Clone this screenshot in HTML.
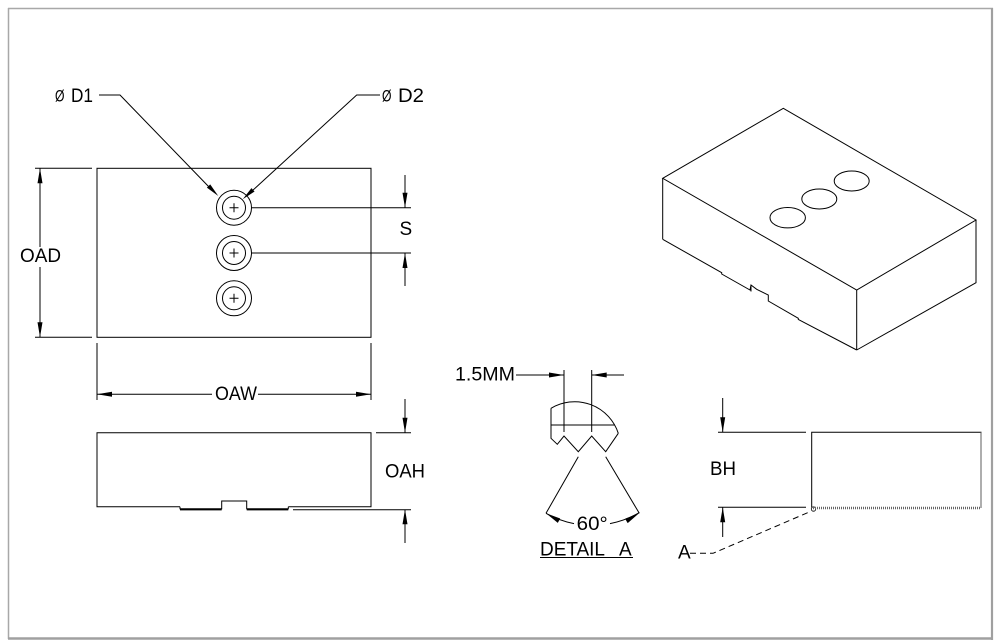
<!DOCTYPE html>
<html><head><meta charset="utf-8"><style>
html,body{margin:0;padding:0;background:#fff;}
svg{display:block;}
text{font-family:"Liberation Sans","DejaVu Sans",sans-serif;font-size:19px;fill:#000;}
.dia{font-size:17px;}
</style></head><body>
<svg width="1001" height="644" viewBox="0 0 1001 644" xmlns="http://www.w3.org/2000/svg">
<!-- frame -->
<line x1="8" y1="8.5" x2="993" y2="8.5" stroke="#a8a8a8" stroke-width="1.5"/>
<line x1="8.5" y1="8" x2="8.5" y2="639" stroke="#a8a8a8" stroke-width="1.5"/>
<line x1="992" y1="8" x2="992" y2="640" stroke="#a0a0a0" stroke-width="2.2"/>
<line x1="8" y1="638.5" x2="993" y2="638.5" stroke="#a0a0a0" stroke-width="2.5"/>

<g stroke="#000" stroke-width="1" fill="none">
<!-- TOP VIEW -->
<rect x="97" y="168.3" width="274" height="169"/>
<circle cx="234" cy="207.7" r="17.5"/><circle cx="234" cy="207.7" r="11.5"/>
<circle cx="234" cy="253" r="17.5"/><circle cx="234" cy="253" r="11.5"/>
<circle cx="234" cy="298.3" r="17.5"/><circle cx="234" cy="298.3" r="11.5"/>
<path d="M229.5,207.7h9M234,203.2v9M229.5,253h9M234,248.5v9M229.5,298.3h9M234,293.8v9"/>
<!-- leaders -->
<path d="M99,95H120L210,188"/>
<path d="M380,95H356.7L252,191"/>
<!-- OAD -->
<path d="M35,168.3H92M35,337.3H92M40,168.3V247M40,267V337.3"/>
<!-- S -->
<path d="M251.5,207.7H411M251.5,253H411M405,175V207.7M405,253V286"/>
<!-- OAW -->
<path d="M97,343V400M371,343V400M97,394.3H212M258,394.3H371"/>

<!-- FRONT VIEW -->
<path d="M180,506.7H97V432.7H371V506.7H288.3"/>
<path d="M221.7,509.3V501H246.7V509.3"/>
<path d="M376,432.7H411M293,509.8H411M405,399V432.7M405,509.3V543"/>

<!-- DETAIL A -->
<path d="M551,408.3V438.3L557.3,444.3L564,436L578.3,451.7L591.7,436L605.7,451.7L618.3,433.3"/>
<path d="M551,408.3A45.9,45.9 0 0 1 618.3,433.3"/>
<path d="M551,425H614.8"/>
<path d="M564,370V432M591.7,370V432M516,375H564M591.7,375H624"/>
<path d="M578.3,456.7L546,513.3M605.7,456.7L639.3,513.3"/>
<path d="M546,513.3A92.4,92.4 0 0 0 574,523.6M610,523.6A92.4,92.4 0 0 0 639.3,512.6"/>
<path d="M540,557.5H633"/>

<!-- BH VIEW -->
<path d="M811.7,507.3V432.3H981V507.3"/>
<path d="M718,432.3H806M718,507.3H806M722.7,398V432.3M722.7,507.3V537"/>
<path d="M690,553.3H713L810,511.7" stroke-dasharray="6,4"/>
<circle cx="813.5" cy="509" r="2.2" stroke-width="0.8"/>

<!-- ISO VIEW -->
<path d="M662.7,178.3L783.3,108.3L976,220L856.7,290Z"/>
<path d="M662.7,178.3V239.3M856.7,290V350M976,220V282.7L856.7,350"/>
<path d="M662.7,239.3L721.7,272.7V274L750,290L751,285L756.7,289.3L768.3,295V301L798.3,318.3V319.5L856.7,350"/>
<path d="M751,285V291.5"/>
<ellipse cx="787.7" cy="217.7" rx="17.7" ry="10.2"/>
<ellipse cx="819.3" cy="199" rx="17.5" ry="10"/>
<ellipse cx="851.7" cy="181" rx="17.5" ry="10"/>
</g>

<!-- thick / dotted bits -->
<path d="M180,509.3H221.7M246.7,509.3H288.3" stroke="#000" stroke-width="2.2" fill="none"/>
<path d="M180,506.7V509.3M288.3,506.7V509.3" stroke="#000" stroke-width="1" fill="none"/>
<path d="M813,508H981" stroke="#666" stroke-width="2.4" stroke-dasharray="1,1" fill="none"/>
<line x1="981" y1="432.3" x2="981" y2="508" stroke="#777" stroke-width="1.2"/>

<!-- arrowheads -->
<g fill="#000" stroke="none">
<polygon points="218.3,196 206.9,187.6 210.2,184.4"/>
<polygon points="242.7,199.3 251.45,188.15 254.55,191.55"/>
<polygon points="40,168.3 37.5,183.3 42.5,183.3"/>
<polygon points="40,337.3 37.5,322.3 42.5,322.3"/>
<polygon points="405,207.7 402.5,192.7 407.5,192.7"/>
<polygon points="405,253 402.5,268 407.5,268"/>
<polygon points="97,394.3 112,391.8 112,396.8"/>
<polygon points="371,394.3 356,391.8 356,396.8"/>
<polygon points="405,432.7 402.5,417.7 407.5,417.7"/>
<polygon points="405,509.3 402.5,524.3 407.5,524.3"/>
<polygon points="722.7,432.3 720.2,417.3 725.2,417.3"/>
<polygon points="722.7,507.3 720.2,522.3 725.2,522.3"/>
<polygon points="564,375 549,372.5 549,377.5"/>
<polygon points="591.7,375 606.7,372.5 606.7,377.5"/>
<polygon points="546,513.3 560.2,518.5 557.8,522.9"/>
<polygon points="639.3,513 627.7,523.1 625.1,518.8"/>
</g>

<!-- text -->
<text class="dia" x="55" y="101.5" textLength="9.5" lengthAdjust="spacingAndGlyphs">Ø</text>
<text x="71" y="102" textLength="22" lengthAdjust="spacingAndGlyphs">D1</text>
<text class="dia" x="382" y="101.5" textLength="9.5" lengthAdjust="spacingAndGlyphs">Ø</text>
<text x="398" y="102" textLength="26" lengthAdjust="spacingAndGlyphs">D2</text>
<text x="20" y="262" textLength="41" lengthAdjust="spacingAndGlyphs">OAD</text>
<text x="399.5" y="235">S</text>
<text x="215" y="400" textLength="42" lengthAdjust="spacingAndGlyphs">OAW</text>
<text x="385" y="477.5" textLength="40" lengthAdjust="spacingAndGlyphs">OAH</text>
<text x="455" y="380.7" textLength="60" lengthAdjust="spacingAndGlyphs">1.5MM</text>
<text x="576.7" y="530" textLength="31" lengthAdjust="spacingAndGlyphs">60°</text>
<text x="540" y="555.5" textLength="65" lengthAdjust="spacing">DETAIL</text>
<text x="619" y="555.5">A</text>
<text x="710" y="475" textLength="26" lengthAdjust="spacingAndGlyphs">BH</text>
<text x="678" y="558.3">A</text>
</svg>
</body></html>
